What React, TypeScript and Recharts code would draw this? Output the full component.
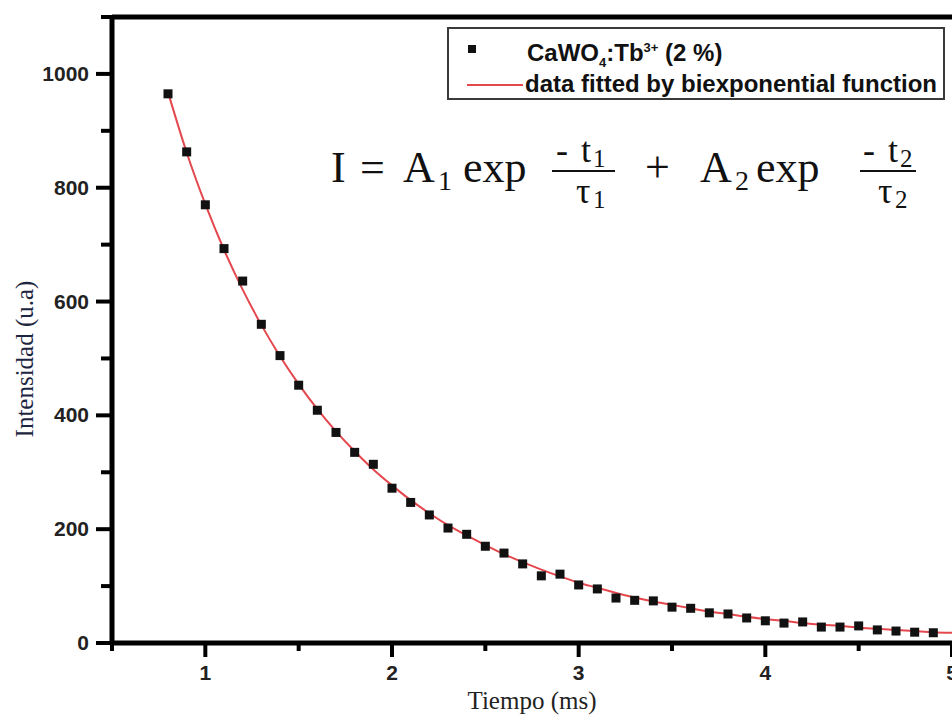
import React from 'react';
import { ComposedChart, XAxis, YAxis, Scatter, Line, ReferenceLine, Legend, Customized } from 'recharts';

const timeMs = [0.8, 0.9, 1.0, 1.1, 1.2, 1.3, 1.4, 1.5, 1.6, 1.7, 1.8, 1.9, 2.0, 2.1, 2.2, 2.3, 2.4, 2.5, 2.6, 2.7, 2.8, 2.9, 3.0, 3.1, 3.2, 3.3, 3.4, 3.5, 3.6, 3.7, 3.8, 3.9, 4.0, 4.1, 4.2, 4.3, 4.4, 4.5, 4.6, 4.7, 4.8, 4.9];
const intensity = [965, 863, 770, 693, 636, 560, 505, 453, 409, 370, 335, 314, 272, 247, 225, 202, 191, 170, 158, 139, 118, 121, 102, 95, 79, 75, 74, 63, 61, 53, 51, 44, 39, 35, 37, 28, 28, 30, 23, 21, 19, 18];

const fitTime = [0.8, 0.9, 1.0, 1.1, 1.2, 1.3, 1.4, 1.5, 1.6, 1.7, 1.8, 1.9, 2.0, 2.1, 2.2, 2.3, 2.4, 2.5, 2.6, 2.7, 2.8, 2.9, 3.0, 3.1, 3.2, 3.3, 3.4, 3.5, 3.6, 3.7, 3.8, 3.9, 4.0, 4.1, 4.2, 4.3, 4.4, 4.5, 4.6, 4.7, 4.8, 4.9, 5.0];
const fitIntensity = [968, 862, 771, 691, 621, 559, 504, 455, 411, 372, 337, 305, 277, 251, 228, 207, 189, 172, 156, 142, 129, 117, 106, 97, 88, 80, 73, 67, 61, 55, 51, 46, 42, 39, 35, 32, 30, 27, 25, 23, 21, 19, 18];

const xTicks = [0.5, 1, 1.5, 2, 2.5, 3, 3.5, 4, 4.5, 5];
const yTicks = [0, 100, 200, 300, 400, 500, 600, 700, 800, 900, 1000, 1100];
const yLabeled = [0, 200, 400, 600, 800, 1000];

const xTitle = 'Tiempo (ms)';
const yTitle = 'Intensidad (u.a)';
const seriesName = 'CaWO4:Tb3+ (2 %)';
const fitName = 'data fitted by biexponential function';

const points = timeMs.map((t, i) => ({ t, v: intensity[i] }));
const fit = fitTime.map((t, i) => ({ t, v: fitIntensity[i] }));

const RED = '#e4474d';
const SANS = "'Liberation Sans', Arial, sans-serif";
const SERIF = "'Liberation Serif', 'Times New Roman', serif";

const Square = (p: any) => (
  <rect x={p.cx - 4.5} y={p.cy - 4.5} width={9} height={9} fill="#111" />
);

const YTick = (props: any) => {
  const { x, y, payload } = props;
  const v = payload.value;
  const major = yLabeled.includes(v);
  return (
    <g>
      <line x1={x} x2={x - (major ? 16 : 11)} y1={y} y2={y} stroke="#000" strokeWidth={4} />
      {major && (
        <text x={x - 23} y={y + 7} textAnchor="end" fontFamily={SANS} fontWeight={700} fontSize={21} fill="#222">
          {v}
        </text>
      )}
    </g>
  );
};

const XTick = (props: any) => {
  const { x, y, payload } = props;
  const v = payload.value;
  const major = Number.isInteger(v);
  return (
    <g>
      <line x1={x} x2={x} y1={y} y2={y + (major ? 14 : 8)} stroke="#000" strokeWidth={4} />
      {major && (
        <text x={x} y={y + 37} textAnchor="middle" fontFamily={SANS} fontWeight={700} fontSize={21} fill="#222">
          {v}
        </text>
      )}
    </g>
  );
};

const LegendBox = () => (
  <div
    style={{
      boxSizing: 'border-box',
      width: 498,
      height: 73,
      border: '2px solid #3a3a3a',
      background: '#fff',
      position: 'relative',
      fontFamily: SANS,
      fontWeight: 700,
      fontSize: 24,
      color: '#111',
      lineHeight: '26px',
    }}
  >
    <div style={{ position: 'absolute', left: 19, top: 16, width: 8, height: 8, background: '#111' }} />
    <div style={{ position: 'absolute', left: 78, top: 6, whiteSpace: 'nowrap' }}>
      CaWO<sub style={{ fontSize: 13 }}>4</sub>:Tb<sup style={{ fontSize: 13 }}>3+</sup> (2 %)
    </div>
    <div style={{ position: 'absolute', left: 18, top: 55, width: 56, height: 2, background: RED }} />
    <div style={{ position: 'absolute', left: 76, top: 42, whiteSpace: 'nowrap' }}>{fitName}</div>
  </div>
);

const Overlay = () => (
  <g>
    <text
      transform="translate(33, 359) rotate(-90)"
      textAnchor="middle"
      fontFamily={SERIF}
      fontSize={25}
      fill="#1c2540"
    >
      {yTitle}
    </text>
    <g fontFamily={SERIF} fill="#111">
      <text x={331} y={182} fontSize={44}>I</text>
      <text x={360} y={182} fontSize={44}>=</text>
      <text x={403} y={182} fontSize={44}>A</text>
      <text x={438} y={190} fontSize={28}>1</text>
      <text x={463} y={182} fontSize={44}>exp</text>
      <text x={556} y={162} fontSize={36}>-</text>
      <text x={581} y={162} fontSize={36}>t</text>
      <text x={593} y={167} fontSize={25}>1</text>
      <line x1={552} x2={615} y1={171} y2={171} stroke="#111" strokeWidth={2} />
      <text x={576} y={203} fontSize={36}>τ</text>
      <text x={593} y={208} fontSize={25}>1</text>
      <text x={645} y={182} fontSize={44}>+</text>
      <text x={700} y={182} fontSize={44}>A</text>
      <text x={735} y={190} fontSize={28}>2</text>
      <text x={756} y={182} fontSize={44}>exp</text>
      <text x={863} y={162} fontSize={36}>-</text>
      <text x={888} y={162} fontSize={36}>t</text>
      <text x={900} y={167} fontSize={25}>2</text>
      <line x1={860} x2={916} y1={171} y2={171} stroke="#111" strokeWidth={2} />
      <text x={878} y={203} fontSize={36}>τ</text>
      <text x={895} y={208} fontSize={25}>2</text>
    </g>
  </g>
);

export default function App() {
  return (
    <div style={{ position: 'absolute', left: 0, top: 0, width: 952, height: 717, background: '#fff' }}>
      <ComposedChart width={952} height={717} margin={{ top: 17, right: 0, bottom: 0, left: 0 }}>
        <XAxis
          dataKey="t"
          type="number"
          domain={[0.5, 5]}
          ticks={xTicks}
          allowDataOverflow
          height={74}
          tickSize={0}
          tickMargin={0}
          tickLine={false}
          tick={<XTick />}
          axisLine={{ stroke: '#000', strokeWidth: 5 }}
          interval={0}
          label={{ value: xTitle, position: 'insideBottom', offset: 8, fontFamily: SERIF, fontSize: 25, fill: '#222' }}
        />
        <YAxis
          dataKey="v"
          type="number"
          domain={[0, 1100]}
          ticks={yTicks}
          allowDataOverflow
          width={112}
          tickSize={0}
          tickMargin={0}
          tickLine={false}
          tick={<YTick />}
          axisLine={{ stroke: '#000', strokeWidth: 5 }}
          interval={0}
        />
        <ReferenceLine y={1100} stroke="#000" strokeWidth={5} ifOverflow="visible" />
        <Line
          data={fit}
          dataKey="v"
          type="monotone"
          stroke={RED}
          strokeWidth={2}
          dot={false}
          activeDot={false}
          isAnimationActive={false}
          name={fitName}
        />
        <Scatter data={points} dataKey="v" shape={Square} isAnimationActive={false} name={seriesName} />
        <Legend
          layout="vertical"
          align="center"
          verticalAlign="middle"
          content={() => <LegendBox />}
          wrapperStyle={{ left: 447, top: 27, width: 498, height: 73 }}
        />
        <Customized component={Overlay} />
      </ComposedChart>
    </div>
  );
}
